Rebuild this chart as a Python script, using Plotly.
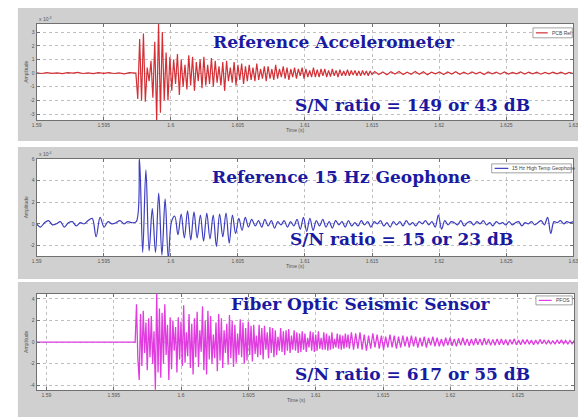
import numpy as np
import plotly.graph_objects as go

W, H = 586, 417
OFF = 8  # page body margin offset (pixels)

# ---------------- data ----------------
# Reference accelerometer (units of 1e-3)
acc_pre_span = (1.5900, 1.5973)
acc_pre = [0.02, -0.03, 0.04, -0.02, 0.01, -0.04, 0.03, -0.01, 0.05, -0.03,
           0.02, -0.04, 0.03, -0.02, 0.04, -0.03, 0.02, -0.05, 0.03, 0.0]
acc_main_span = (1.5974, 1.6150)
acc_main = [0, -1.9, 2.5, -2.0, 2.9, -2.1, 0.4, -0.6, 0.9, -1.8, 2.3, -3.5, 3.6, -2.9, 3.0, -2.0, 1.5, -2.0, 1.2, -1.3,
            1.0, -0.8, 1.4, -1.6, 1.0, -1.0, 0.6, -1.2, 1.3, -0.9, 1.2, -1.3, 0.8, -0.6, 1.0, -1.1, 1.2, -0.9, 0.6, -0.8,
            1.1, -1.0, 0.9, -0.7, 0.5, -0.9, 0.8, -1.3, 0.9, -0.6, 0.4, -0.7, 0.8, -0.9, 0.6, -0.5, 0.7, -0.8, 0.5, -0.6,
            0.6, -0.5, 0.4, -0.6, 0.7, -0.5, 0.3, -0.4, 0.5, -0.6, 0.5, -0.4, 0.3, -0.5, 0.6, -0.4, 0.3, -0.3, 0.5, -0.4,
            0.4, -0.5, 0.3, -0.3, 0.4, -0.4, 0.3, -0.2, 0.4, -0.4, 0.3, -0.3, 0.2, -0.3, 0.4, -0.3, 0.25, -0.3, 0.3, -0.2,
            0.3, -0.3, 0.2, -0.25, 0.3, -0.2, 0.2, -0.3, 0.25, -0.2, 0.15, -0.2, 0.25, -0.2, 0.2, -0.15, 0.2, -0.2, 0.15,
            -0.2, 0.2, -0.15, 0.15, -0.2, 0.15, -0.1]
acc_tail_span = (1.6152, 1.6300)
acc_tail = [0.12, -0.1, 0.08, -0.13, 0.1, -0.07, 0.12, -0.1, 0.06, -0.09, 0.11, -0.08, 0.1, -0.12, 0.07, -0.06,
            0.09, -0.1, 0.08, -0.07, 0.1, -0.09, 0.06, -0.08, 0.09, -0.06, 0.07, -0.1, 0.08, -0.05, 0.06, -0.08,
            0.09, -0.07, 0.05, -0.06, 0.08, -0.07, 0.06, -0.05, 0.07, -0.08, 0.05, -0.06, 0.07, -0.05, 0.06, -0.07,
            0.05, -0.04]

# Reference 15 Hz geophone (units of 1e-4)
geo_pre_span = (1.5900, 1.5971)
geo_pre = [0.0, -0.3, 0.1, 0.3, -0.1, 0.0, 0.2, -0.3, 0.1, 0.2, -0.2, 0.1, 0.0, 0.3, 0.5, -1.2, 0.6, -0.3,
           0.2, 0.0, 0.1, 0.3, 0.0, 0.2, 0.1]
geo_main_span = (1.59743, 1.60603)
geo_main = [0.2, 6.0, -2.65, 5.0, -2.5, 1.4, -2.65, 2.85, -2.9, 2.3, -3.2, 0.2, 0.7, -1.0, 0.9, -1.3, 1.2, -1.5,
            1.1, -1.3, 0.8, -1.6, 1.0, -1.4, 0.8, -2.1, 0.9, -1.2, 1.0, -1.8, 0.8, -0.9, 0.5, -0.6, 0.6, -0.3, 0.4]
geo_tail_span = (1.6063, 1.6300)
geo_tail = [-0.2, 0.3, -0.3, 0.4, -0.2, 0.3, -0.4, 0.2, -0.1, 0.3,
            -0.3, 0.2, -0.2, 0.4, -0.5, 0.6, -0.7, 0.5, -0.6, 0.3,
            -0.2, 0.4, -0.3, 0.2, -0.4, 0.3, -0.1, 0.2, -0.3, 0.3,
            -0.2, 0.1, -0.2, 0.3, -0.1, 0.2, -0.3, 0.2, 0.0, 0.3,
            -0.2, 0.1, -0.3, 0.2, -0.1, 0.2, -0.2, 0.3, -0.1, 0.1,
            -0.2, 0.2, 0.0, 0.3, -0.1, 0.2, -0.3, 0.8, -0.5, 0.3,
            -0.1, 0.2, 0.1, -0.1, 0.3, -0.2, 0.1, 0.2, -0.1, 0.2,
            0.0, 0.3, -0.1, 0.1, -0.2, 0.2, 0.0, 0.1, -0.1, 0.2,
            -0.1, 0.1, 0.2, -0.2, 0.1, 0.0, 0.2, -0.1, 0.1, 0.3,
            -0.1, 0.6, -0.9, 0.2, 0.1, 0.3, 0.0, 0.2, 0.1, 0.2]

# Fiber optic seismic sensor
fos_pre_span = (1.58927, 1.59655)
fos_pre = [0.0, 0.0]
fos_main_span = (1.59659, 1.61250)
fos_main = [0, 3.5, -1.5, -3.5, 2.6, -2.2, 2.9, -1.0, 1.8, -2.6, 2.2, -1.4, 2.4, -2.0, 1.0, -4.4, 4.5, -2.8, 3.1, -3.3,
            2.7, -2.0, 3.5, -1.2, 1.6, -3.5, 2.3, -2.5, 2.0, -0.8, 1.4, -2.8, 2.3, -1.6, 1.9, -2.2, 3.4, -1.9, 0.9,
            -1.3, 2.6, -2.4, 1.7, -3.0, 2.2, -1.4, 2.8, -2.3, 1.1, -0.9, 3.3, -2.6, 2.0, -3.0, 2.9, -1.6, 2.4, -2.0,
            0.7, -1.5, 1.8, -2.7, 2.6, -1.7, 2.2, -2.4, 1.1, -1.0, 1.7, -2.1, 2.5, -1.5, 2.0, -2.3, 1.6, -1.9, 0.8,
            -1.2, 2.1, -1.4, 1.8, -2.0, 1.3, -1.7, 1.9, -1.2,
            1.5, -1.8, 1.6, -1.1, 0.6, -1.4, 1.6, -1.2, 1.3, -1.6, 1.5, -0.7, 0.9, -1.5, 1.4, -1.0, 1.3, -1.4, 1.1,
            -1.2, 0.5, -0.8, 1.3, -0.9, 1.0, -1.2, 1.1, -0.8, 1.2, -1.0, 0.6, -0.7, 1.1, -0.8, 0.9, -1.0, 0.8,
            -0.9, 1.0, -0.7, 0.8, -0.9, 0.4, -0.5, 1.0, -0.8, 0.9, -0.9, 0.7, -0.8, 1.0, -0.6, 0.4, -0.7, 0.9, -0.7,
            0.8, -0.8, 0.6, -0.7, 0.9, -0.6, 0.3, -0.5, 0.8, -0.6, 0.7, -0.7, 0.6, -0.6, 0.8, -0.5, 0.7, -0.6]
fos_tail_span = (1.61265, 1.62920)
fos_tail = [0.9, -0.7, 0.8, -0.6, 0.9, -0.7, 0.7, -0.8, 0.6, -0.6, 0.8, -0.5, 0.7, -0.6, 0.6, -0.7, 0.5, -0.5,
            0.7, -0.5, 0.6, -0.6, 0.5,
            -0.5, 0.6, -0.4, 0.5, -0.5, 0.6, -0.4, 0.5, -0.5, 0.4, -0.4, 0.5, -0.5, 0.4, -0.3, 0.5, -0.4, 0.4,
            -0.4, 0.3, -0.4, 0.4, -0.3,
            0.4, -0.35, 0.3, -0.4, 0.35, -0.3, 0.4, -0.3, 0.3, -0.35, 0.3, -0.3, 0.35, -0.25, 0.3, -0.3, 0.35,
            -0.25, 0.3, -0.3, 0.25, -0.3, 0.3,
            -0.25, 0.3, -0.25, 0.25, -0.3, 0.25, -0.2, 0.3, -0.25, 0.2, -0.25, 0.25, -0.2, 0.25, -0.2, 0.2,
            -0.25, 0.2, -0.2, 0.25, -0.15, 0.2, -0.2, 0.2, -0.2, 0.15, -0.2, 0.2, -0.15, 0.2, -0.15, 0.15,
            -0.2, 0.15, -0.15, 0.15]

time_ticks = [1.59, 1.595, 1.6, 1.605, 1.61, 1.615, 1.62, 1.625, 1.63]
time_tick_labels = ["1.59", "1.595", "1.6", "1.605", "1.61", "1.615", "1.62", "1.625", "1.63"]
acc_yticks = [-3, -2, -1, 0, 1, 2, 3]
geo_yticks = [-2, 0, 2, 4, 6]
fos_yticks = [-4, -2, 0, 2, 4]

titles = ["Reference Accelerometer", "Reference 15 Hz Geophone", "Fiber Optic Seismic Sensor"]
snr_texts = ["S/N ratio = 149 or 43 dB", "S/N ratio = 15 or 23 dB", "S/N ratio = 617 or 55 dB"]
legend_names = ["PCB Ref", "15 Hz High Temp Geophone", "PFOS"]
colors = ["#d42f35", "#3d3dbf", "#e03ce0"]


def series(*parts):
    ts, vs = [], []
    for span, vals in parts:
        ts.append(np.linspace(span[0], span[1], len(vals)))
        vs.append(np.asarray(vals, dtype=float))
    return np.concatenate(ts), np.concatenate(vs)


acc_t, acc_v = series((acc_pre_span, acc_pre), (acc_main_span, acc_main), (acc_tail_span, acc_tail))
geo_t, geo_v = series((geo_pre_span, geo_pre), (geo_main_span, geo_main), (geo_tail_span, geo_tail))
fos_t, fos_v = series((fos_pre_span, fos_pre), (fos_main_span, fos_main), (fos_tail_span, fos_tail))


# ---------------- figure ----------------
def px(x):
    return (x - OFF) / W


def py(y):
    return 1 - (y - OFF) / H


fig = go.Figure()
fig.add_trace(go.Scatter(x=acc_t, y=acc_v, mode="lines", name=legend_names[0],
                         line=dict(color=colors[0], width=1.2), xaxis="x", yaxis="y"))
fig.add_trace(go.Scatter(x=geo_t, y=geo_v, mode="lines", name=legend_names[1],
                         line=dict(color=colors[1], width=1.2, shape="spline", smoothing=1.0),
                         xaxis="x2", yaxis="y2"))
fig.add_trace(go.Scatter(x=fos_t, y=fos_v, mode="lines", name=legend_names[2],
                         line=dict(color=colors[2], width=1.3), xaxis="x3", yaxis="y3"))

# plot-area boxes in pixels: (left, top, right, bottom)
boxes = [(32, 21, 578, 118), (32, 157, 578, 255), (32, 293, 579, 390)]
panels = [(13, 4, 584, 139), (13, 145, 584, 278), (13, 281, 584, 417)]
xranges = [[1.59, 1.63], [1.59, 1.63], [1.58927, 1.6292]]
yranges = [[-3.45, 3.6], [-3.0, 6.0], [-4.45, 4.45]]
yticks = [acc_yticks, geo_yticks, fos_yticks]

axcommon = dict(showgrid=True, gridcolor="#c0c0c0", griddash="dot", gridwidth=1,
                showline=True, linecolor="#707070", linewidth=1, mirror="ticks",
                ticks="inside", ticklen=3, tickcolor="#707070", zeroline=False,
                tickfont=dict(family="Liberation Sans, Arial", size=5, color="#555555"))

layout_axes = {}
for i in range(3):
    l, t, r, b = boxes[i]
    sx = "" if i == 0 else str(i + 1)
    layout_axes["xaxis" + sx] = dict(domain=[px(l), px(r)], anchor="y" + sx, range=xranges[i],
                                     tickvals=time_ticks, ticktext=time_tick_labels, **axcommon)
    layout_axes["yaxis" + sx] = dict(domain=[py(b), py(t)], anchor="x" + sx, range=yranges[i],
                                     tickvals=yticks[i], ticktext=[str(v) for v in yticks[i]], **axcommon)

shapes = []
for (l, t, r, b) in panels:
    shapes.append(dict(type="rect", xref="paper", yref="paper", x0=px(l), x1=px(r), y0=py(b), y1=py(t),
                       fillcolor="#d0d0d0", line=dict(width=0), layer="below"))
for (l, t, r, b) in boxes:
    shapes.append(dict(type="rect", xref="paper", yref="paper", x0=px(l), x1=px(r), y0=py(b), y1=py(t),
                       fillcolor="white", line=dict(width=0), layer="below"))

# manual legends (box, line sample, text)
legend_boxes = [(537, 25, 577, 35), (495, 162, 576, 171), (540, 295, 577, 304)]
legend_line_len = [12, 14, 13]
annotations = []
for i, (l, t, r, b) in enumerate(legend_boxes):
    shapes.append(dict(type="rect", xref="paper", yref="paper", x0=px(l), x1=px(r), y0=py(b), y1=py(t),
                       fillcolor="white", line=dict(color="#8a8a8a", width=0.8), layer="above"))
    ym = (t + b) / 2
    shapes.append(dict(type="line", xref="paper", yref="paper", x0=px(l + 3), x1=px(l + 3 + legend_line_len[i]),
                       y0=py(ym), y1=py(ym), line=dict(color=colors[i], width=1.2), layer="above"))
    annotations.append(dict(x=px(l + 5 + legend_line_len[i]), y=py(ym), xref="paper", yref="paper",
                            text=legend_names[i], showarrow=False, xanchor="left", yanchor="middle",
                            font=dict(family="Liberation Sans, Arial", size=5, color="#444444")))

# axis labels
for i, (l, t, r, b) in enumerate(boxes):
    annotations.append(dict(x=px((l + r) / 2 - 10), y=py(b + 10), xref="paper", yref="paper", text="Time (s)",
                            showarrow=False, xanchor="center", yanchor="middle",
                            font=dict(family="Liberation Sans, Arial", size=5, color="#555555")))
    annotations.append(dict(x=px(21), y=py((t + b) / 2), xref="paper", yref="paper", text="Amplitude",
                            showarrow=False, textangle=-90, xanchor="center", yanchor="middle",
                            font=dict(family="Liberation Sans, Arial", size=5, color="#555555")))
exps = ["x 10<sup>-3</sup>", "x 10<sup>-4</sup>"]
for i in range(2):
    l, t, r, b = boxes[i]
    annotations.append(dict(x=px(l), y=py(t - 5), xref="paper", yref="paper", text=exps[i],
                            showarrow=False, xanchor="left", yanchor="middle",
                            font=dict(family="Liberation Sans, Arial", size=5, color="#555555")))

# big captions
title_pos = [(335, 39), (342, 175), (362, 303)]
snr_pos = [(414, 103), (403, 238), (414, 374)]
big_font = dict(family="DejaVu Serif", size=17, color="#1a1aa0")
for i in range(3):
    annotations.append(dict(x=px(title_pos[i][0]), y=py(title_pos[i][1]), xref="paper", yref="paper",
                            text="<b>" + titles[i] + "</b>", showarrow=False, xanchor="center",
                            yanchor="middle", font=big_font))
    annotations.append(dict(x=px(snr_pos[i][0]), y=py(snr_pos[i][1]), xref="paper", yref="paper",
                            text="<b>" + snr_texts[i] + "</b>", showarrow=False, xanchor="center",
                            yanchor="middle", font=big_font))

fig.update_layout(width=W, height=H, margin=dict(l=0, r=0, t=0, b=0, pad=0),
                  paper_bgcolor="white", plot_bgcolor="rgba(0,0,0,0)", showlegend=False,
                  shapes=shapes, annotations=annotations, **layout_axes)

fig.write_html("out.html")
